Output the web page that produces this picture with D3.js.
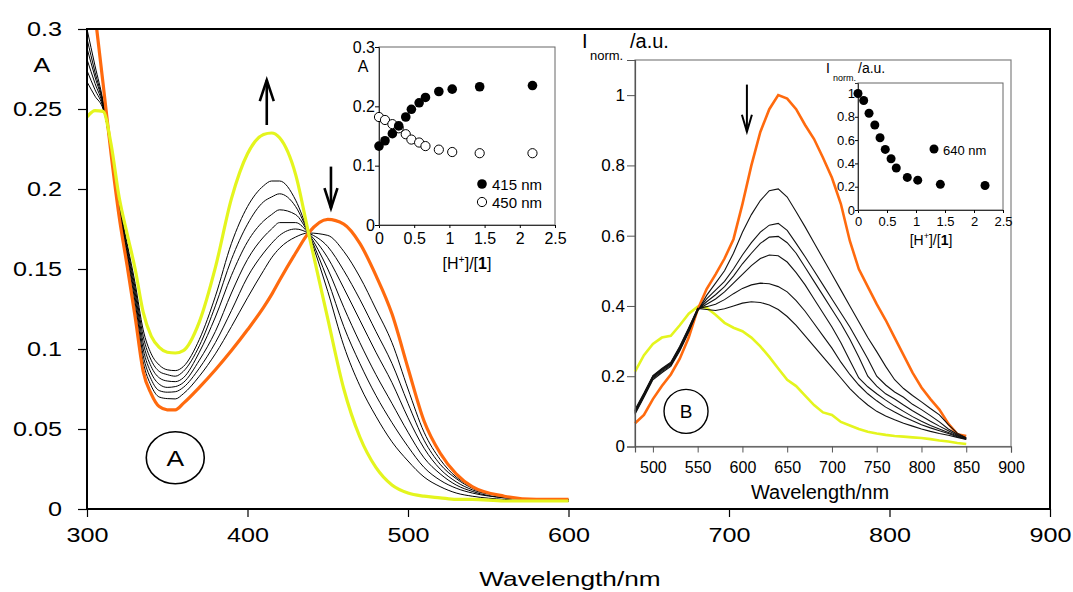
<!DOCTYPE html>
<html>
<head>
<meta charset="utf-8">
<script src="https://cdn.jsdelivr.net/npm/d3@7"></script>
<style>
  body { margin: 0; background: #fff; }
  svg { font-family: "Liberation Sans", Arial, sans-serif; }
  .sx-mid { transform-box: fill-box; transform-origin: 50% 50%; transform: scaleX(1.2); }
  .sx-end { transform-box: fill-box; transform-origin: 100% 50%; transform: scaleX(1.2); }
  .sx-title { transform-box: fill-box; transform-origin: 50% 50%; transform: scaleX(1.25); }
</style>
</head>
<body>
<div id="chart"></div>
<script>
// ---- panel A: absorption spectra ----
const absWl = [300,305,310,315,320,325,330,335,340,345,350,355,360,370,380,390,400,410,415,420,430,438,450,460,470,480,490,500,510,520,530,540,560,580,600];
const absYellow = [0.245,0.249,0.2485,0.228,0.195,0.172,0.150,0.123,0.108,0.101,0.098,0.0975,0.099,0.117,0.151,0.194,0.222,0.234,0.235,0.232,0.209,0.1725,0.119,0.075,0.045,0.026,0.015,0.010,0.008,0.007,0.006,0.006,0.005,0.005,0.005];
const absOrange = [0.352,0.309,0.266,0.222,0.183,0.152,0.120,0.086,0.072,0.064,0.062,0.062,0.066,0.076,0.087,0.099,0.112,0.126,0.134,0.143,0.160,0.1725,0.181,0.178,0.166,0.146,0.122,0.088,0.055,0.035,0.022,0.014,0.008,0.006,0.006];
const absBlack1 = [0.267,0.258,0.250,0.227,0.192,0.166,0.141,0.112,0.097,0.090,0.087,0.0865,0.089,0.106,0.133,0.166,0.189,0.202,0.205,0.205,0.193,0.1725,0.136,0.102,0.077,0.058,0.042,0.030,0.020,0.014,0.010,0.008,0.006,0.005,0.005];
const absBlack2 = [0.274,0.262,0.251,0.226,0.190,0.164,0.138,0.108,0.093,0.086,0.084,0.083,0.086,0.102,0.127,0.156,0.178,0.192,0.195,0.197,0.189,0.1725,0.143,0.114,0.091,0.071,0.054,0.039,0.026,0.018,0.013,0.010,0.007,0.006,0.005];
const absBlack3 = [0.281,0.266,0.252,0.225,0.189,0.162,0.135,0.104,0.089,0.082,0.080,0.0796,0.082,0.098,0.120,0.146,0.167,0.180,0.184,0.187,0.184,0.1725,0.150,0.126,0.104,0.084,0.066,0.048,0.032,0.022,0.015,0.011,0.007,0.006,0.005];
const absBlack4 = [0.288,0.270,0.253,0.224,0.188,0.160,0.132,0.100,0.085,0.078,0.076,0.0765,0.079,0.093,0.111,0.135,0.156,0.170,0.175,0.179,0.179,0.1725,0.157,0.138,0.118,0.098,0.079,0.057,0.038,0.025,0.017,0.012,0.008,0.006,0.006];
const absBlack5 = [0.294,0.273,0.254,0.223,0.187,0.158,0.129,0.096,0.081,0.074,0.073,0.0733,0.076,0.088,0.104,0.124,0.145,0.160,0.166,0.171,0.175,0.1725,0.164,0.149,0.131,0.111,0.091,0.066,0.043,0.028,0.019,0.013,0.008,0.006,0.006];
const absBlack6 = [0.300,0.277,0.255,0.222,0.185,0.155,0.125,0.092,0.077,0.070,0.069,0.0688,0.072,0.083,0.097,0.114,0.132,0.149,0.157,0.163,0.170,0.1725,0.171,0.161,0.145,0.125,0.104,0.075,0.048,0.031,0.020,0.014,0.008,0.006,0.006];
const absTicksX = [300,400,500,600,700,800,900];
const absTicksY = [0,0.05,0.1,0.15,0.2,0.25,0.3];

// inset of panel A: absorbance vs [H+]/[1]
const ratioA = [0,0.085,0.19,0.28,0.38,0.46,0.57,0.66,0.85,1.04,1.43,2.18];
const abs415 = [0.133,0.142,0.154,0.167,0.182,0.195,0.206,0.215,0.225,0.229,0.233,0.235];
const abs450 = [0.182,0.177,0.170,0.163,0.153,0.144,0.139,0.133,0.127,0.123,0.121,0.121];
const insetTicksX = [0,0.5,1,1.5,2,2.5];
const insetATicksY = [0,0.1,0.2,0.3];

// ---- panel B: emission spectra ----
const emWl = [480,490,500,510,520,530,540,550,560,570,580,590,600,610,620,630,640,650,660,670,680,690,700,710,720,730,740,750,760,770,780,790,800,810,820,830,840,850];
const emOrange = [0.066,0.09,0.135,0.172,0.205,0.25,0.31,0.39,0.448,0.49,0.535,0.59,0.69,0.80,0.895,0.96,1.0,0.99,0.96,0.915,0.875,0.822,0.765,0.69,0.585,0.505,0.455,0.405,0.36,0.31,0.26,0.21,0.168,0.135,0.105,0.065,0.035,0.03];
const emYellow = [0.213,0.26,0.292,0.31,0.315,0.345,0.378,0.398,0.395,0.375,0.352,0.338,0.328,0.31,0.285,0.255,0.222,0.19,0.172,0.145,0.118,0.097,0.09,0.07,0.06,0.05,0.042,0.037,0.033,0.03,0.028,0.026,0.024,0.021,0.017,0.014,0.01,0.007];
const emBlack1 = [0.092,0.14,0.19,0.21,0.228,0.272,0.325,0.385,0.43,0.465,0.50,0.55,0.61,0.66,0.70,0.728,0.733,0.71,0.668,0.625,0.58,0.535,0.49,0.445,0.40,0.355,0.31,0.27,0.228,0.19,0.165,0.145,0.127,0.108,0.09,0.062,0.038,0.025];
const emBlack2 = [0.095,0.143,0.193,0.213,0.231,0.275,0.328,0.387,0.42,0.445,0.47,0.505,0.545,0.58,0.61,0.63,0.635,0.615,0.578,0.54,0.50,0.46,0.42,0.38,0.34,0.295,0.25,0.20,0.175,0.155,0.14,0.12,0.105,0.088,0.07,0.05,0.035,0.024];
const emBlack3 = [0.098,0.146,0.196,0.216,0.234,0.278,0.331,0.389,0.412,0.432,0.455,0.485,0.52,0.55,0.578,0.596,0.598,0.58,0.55,0.51,0.47,0.43,0.39,0.35,0.305,0.255,0.20,0.172,0.15,0.135,0.118,0.102,0.087,0.072,0.058,0.045,0.032,0.023];
const emBlack4 = [0.1,0.148,0.198,0.218,0.236,0.28,0.333,0.39,0.405,0.42,0.44,0.465,0.49,0.515,0.535,0.545,0.543,0.525,0.495,0.46,0.42,0.38,0.34,0.295,0.245,0.195,0.17,0.15,0.132,0.115,0.1,0.085,0.072,0.06,0.05,0.04,0.03,0.022];
const emBlack5 = [0.102,0.15,0.2,0.22,0.238,0.283,0.336,0.392,0.398,0.405,0.418,0.435,0.45,0.46,0.465,0.463,0.455,0.44,0.415,0.385,0.35,0.315,0.28,0.24,0.205,0.175,0.15,0.13,0.112,0.098,0.085,0.073,0.062,0.053,0.045,0.037,0.028,0.021];
const emBlack6 = [0.105,0.152,0.202,0.222,0.24,0.285,0.338,0.393,0.39,0.387,0.392,0.4,0.408,0.412,0.41,0.403,0.39,0.37,0.345,0.315,0.285,0.255,0.225,0.195,0.165,0.14,0.118,0.1,0.087,0.076,0.066,0.058,0.05,0.043,0.037,0.032,0.026,0.02];
const emTicksX = [500,550,600,650,700,750,800,850,900];
const emTicksY = [0,0.2,0.4,0.6,0.8,1];

// inset of panel B: normalised intensity vs [H+]/[1]
const ratioB = [0,0.098,0.19,0.29,0.38,0.47,0.57,0.66,0.85,1.03,1.42,2.19];
const int640 = [1.0,0.94,0.83,0.73,0.62,0.52,0.44,0.36,0.28,0.256,0.22,0.21];
const insetBTicksY = [0,0.2,0.4,0.6,0.8,1];

const ORANGE = "#ff6a0e", YELLOW = "#e4f51e";
const fmt = d3.format("~g");

const svg = d3.select("#chart").append("svg")
  .attr("width", 1073).attr("height", 592);

// ================= main panel A =================
const x = d3.scaleLinear().domain([300, 900]).range([87, 1050]);
const y = d3.scaleLinear().domain([0, 0.3]).range([509, 29]);

svg.append("clipPath").attr("id", "clipA")
  .append("rect").attr("x", 87).attr("y", 29).attr("width", 963).attr("height", 480);

const lineA = d3.line()
  .x(d => x(d[0])).y(d => y(d[1]))
  .curve(d3.curveMonotoneX);

const gA = svg.append("g").attr("clip-path", "url(#clipA)");
[absBlack1, absBlack2, absBlack3, absBlack4, absBlack5, absBlack6].forEach(s => {
  gA.append("path")
    .attr("d", lineA(d3.zip(absWl, s)))
    .attr("fill", "none").attr("stroke", "#000").attr("stroke-width", 1);
});
gA.append("path").attr("d", lineA(d3.zip(absWl, absOrange)))
  .attr("fill", "none").attr("stroke", ORANGE).attr("stroke-width", 3.2);
gA.append("path").attr("d", lineA(d3.zip(absWl, absYellow)))
  .attr("fill", "none").attr("stroke", YELLOW).attr("stroke-width", 3.2);

// axes
svg.append("g")
  .attr("transform", "translate(0,509)")
  .call(d3.axisBottom(x).tickValues(absTicksX).tickSize(8).tickPadding(10))
  .call(g => g.select(".domain").remove())
  .call(g => g.selectAll(".tick line").attr("stroke-width", 1.2))
  .call(g => g.selectAll(".tick text").attr("class", "sx-mid")
    .attr("font-size", 21).attr("font-family", null).attr("fill", "#000"));

svg.append("g")
  .attr("transform", "translate(87,0)")
  .call(d3.axisLeft(y).tickValues(absTicksY).tickFormat(fmt).tickSize(9).tickPadding(16))
  .call(g => g.select(".domain").remove())
  .call(g => g.selectAll(".tick line").attr("stroke-width", 1.2))
  .call(g => g.selectAll(".tick text").attr("class", "sx-end")
    .attr("font-size", 21).attr("font-family", null).attr("fill", "#000"));

svg.append("rect")
  .attr("x", 87).attr("y", 29).attr("width", 963).attr("height", 480)
  .attr("fill", "none").attr("stroke", "#000").attr("stroke-width", 2);

svg.append("text").attr("class", "sx-mid")
  .attr("x", 42).attr("y", 72).attr("text-anchor", "middle")
  .attr("font-size", 21).text("A");
svg.append("text").attr("class", "sx-title")
  .attr("x", 570).attr("y", 586).attr("text-anchor", "middle")
  .attr("font-size", 21).text("Wavelength/nm");

// arrows
function arrow(xp, yTail, yTip, w, h, sw) {
  const dir = yTip < yTail ? 1 : -1;
  svg.append("line").attr("x1", xp).attr("x2", xp).attr("y1", yTail).attr("y2", yTip)
    .attr("stroke", "#000").attr("stroke-width", sw);
  svg.append("path")
    .attr("d", `M${xp - w},${yTip + dir * h}L${xp},${yTip}L${xp + w},${yTip + dir * h}`)
    .attr("fill", "none").attr("stroke", "#000").attr("stroke-width", sw);
}
arrow(x(412), y(0.24), y(0.268), 7, 21, 2.6);
arrow(x(452), y(0.214), y(0.188), 6.5, 20, 2.6);

// circled "A"
svg.append("ellipse")
  .attr("cx", x(355)).attr("cy", y(0.032)).attr("rx", 29).attr("ry", 26)
  .attr("fill", "none").attr("stroke", "#000").attr("stroke-width", 1.6);
svg.append("text").attr("class", "sx-mid")
  .attr("x", x(355)).attr("y", y(0.032) + 8).attr("text-anchor", "middle")
  .attr("font-size", 22).text("A");

// ================= inset of A =================
const xi = d3.scaleLinear().domain([0, 2.5]).range([379, 555]);
const yi = d3.scaleLinear().domain([0, 0.3]).range([225, 47]);

svg.append("rect").attr("x", 379).attr("y", 47).attr("width", 176).attr("height", 178)
  .attr("fill", "#fff").attr("stroke", "#666").attr("stroke-width", 1);

svg.append("g").attr("transform", "translate(0,225)")
  .call(d3.axisBottom(xi).tickValues(insetTicksX).tickFormat(fmt).tickSize(3).tickPadding(5))
  .call(g => g.select(".domain").attr("stroke", "#333"))
  .call(g => g.selectAll(".tick text").attr("font-size", 16).attr("font-family", null).attr("fill", "#000"));
svg.append("g").attr("transform", "translate(379,0)")
  .call(d3.axisLeft(yi).tickValues(insetATicksY).tickFormat(fmt).tickSize(4).tickPadding(0))
  .call(g => g.select(".domain").attr("stroke", "#333"))
  .call(g => g.selectAll(".tick text").attr("font-size", 16).attr("font-family", null).attr("fill", "#000"));

svg.append("text").attr("x", 363).attr("y", 72).attr("text-anchor", "middle")
  .attr("font-size", 16).text("A");

function ratioLabel(cx, cy, size) {
  const t = svg.append("text").attr("x", cx).attr("y", cy).attr("text-anchor", "middle")
    .attr("font-size", size);
  t.append("tspan").text("[H");
  t.append("tspan").attr("font-size", size * 0.65).attr("dy", -size * 0.4).text("+");
  t.append("tspan").attr("dy", size * 0.4).text("]/[");
  t.append("tspan").attr("font-weight", "bold").text("1");
  t.append("tspan").text("]");
}
ratioLabel(467, 269, 16);

svg.append("g").selectAll("circle")
  .data(d3.zip(ratioA, abs450)).join("circle")
  .attr("cx", d => xi(d[0])).attr("cy", d => yi(d[1])).attr("r", 4.6)
  .attr("fill", "#fff").attr("stroke", "#000").attr("stroke-width", 1);
svg.append("g").selectAll("circle")
  .data(d3.zip(ratioA, abs415)).join("circle")
  .attr("cx", d => xi(d[0])).attr("cy", d => yi(d[1])).attr("r", 4.8)
  .attr("fill", "#000");

svg.append("circle").attr("cx", 482).attr("cy", 184).attr("r", 4.8).attr("fill", "#000");
svg.append("text").attr("x", 492).attr("y", 190).attr("font-size", 15).text("415 nm");
svg.append("circle").attr("cx", 482).attr("cy", 202).attr("r", 4.6)
  .attr("fill", "#fff").attr("stroke", "#000");
svg.append("text").attr("x", 492).attr("y", 208).attr("font-size", 15).text("450 nm");

// ================= panel B =================
const xB = d3.scaleLinear().domain([480, 900]).range([635, 1011]);
const yB = d3.scaleLinear().domain([0, 1.1]).range([446.5, 60]);

svg.append("rect").attr("x", 635).attr("y", 60).attr("width", 376).attr("height", 386.5)
  .attr("fill", "#fff").attr("stroke", "#808080").attr("stroke-width", 1.2);

const lineB = d3.line().x(d => xB(d[0])).y(d => yB(d[1]));
svg.append("path").attr("d", lineB(d3.zip(emWl, emYellow)))
  .attr("fill", "none").attr("stroke", YELLOW).attr("stroke-width", 2.6);
svg.append("path").attr("d", lineB(d3.zip(emWl, emOrange)))
  .attr("fill", "none").attr("stroke", ORANGE).attr("stroke-width", 2.6);
[emBlack1, emBlack2, emBlack3, emBlack4, emBlack5, emBlack6].forEach(s => {
  svg.append("path").attr("d", lineB(d3.zip(emWl, s)))
    .attr("fill", "none").attr("stroke", "#111").attr("stroke-width", 1.1);
});

svg.append("g").attr("transform", "translate(0,446.5)")
  .call(d3.axisBottom(xB).tickValues(emTicksX).tickSize(6).tickPadding(9))
  .call(g => g.select(".domain").attr("stroke", "#555").attr("stroke-width", 1.2))
  .call(g => g.selectAll(".tick line").attr("stroke", "#555"))
  .call(g => g.selectAll(".tick text").attr("font-size", 16).attr("font-family", null).attr("fill", "#000"));
svg.append("g").attr("transform", "translate(635,0)")
  .call(d3.axisLeft(yB).tickValues(emTicksY).tickFormat(fmt).tickSize(8).tickPadding(2))
  .call(g => g.select(".domain").attr("stroke", "#555").attr("stroke-width", 1.2))
  .call(g => g.selectAll(".tick line").attr("stroke", "#555"))
  .call(g => g.selectAll(".tick text").attr("font-size", 17).attr("font-family", null).attr("fill", "#000"));

svg.append("text").attr("x", 820).attr("y", 499).attr("text-anchor", "middle")
  .attr("font-size", 20).text("Wavelength/nm");

svg.append("text").attr("x", 582).attr("y", 48).attr("font-size", 20).text("I");
svg.append("text").attr("x", 590).attr("y", 60).attr("font-size", 13).text("norm.");
svg.append("text").attr("x", 630).attr("y", 48).attr("font-size", 20).text("/a.u.");

arrow(xB(605), yB(1.03), yB(0.896), 5, 17, 2);

svg.append("circle").attr("cx", xB(537)).attr("cy", yB(0.1)).attr("r", 22)
  .attr("fill", "none").attr("stroke", "#000").attr("stroke-width", 1.4);
svg.append("text").attr("x", xB(537)).attr("y", yB(0.1) + 7).attr("text-anchor", "middle")
  .attr("font-size", 19).text("B");

// ================= inset of B =================
const xj = d3.scaleLinear().domain([0, 2.5]).range([858, 1003]);
const yj = d3.scaleLinear().domain([0, 1.09]).range([210, 83]);

svg.append("rect").attr("x", 858).attr("y", 83).attr("width", 145).attr("height", 127)
  .attr("fill", "#fff").attr("stroke", "#666").attr("stroke-width", 1);

svg.append("g").attr("transform", "translate(0,210)")
  .call(d3.axisBottom(xj).tickValues(insetTicksX).tickFormat(fmt).tickSize(3).tickPadding(4))
  .call(g => g.select(".domain").attr("stroke", "#333"))
  .call(g => g.selectAll(".tick text").attr("font-size", 13).attr("font-family", null).attr("fill", "#000"));
svg.append("g").attr("transform", "translate(858,0)")
  .call(d3.axisLeft(yj).tickValues(insetBTicksY).tickFormat(fmt).tickSize(3).tickPadding(0))
  .call(g => g.select(".domain").attr("stroke", "#333"))
  .call(g => g.selectAll(".tick text").attr("font-size", 13).attr("font-family", null).attr("fill", "#000"));

svg.append("text").attr("x", 826).attr("y", 73).attr("font-size", 14).text("I");
svg.append("text").attr("x", 833).attr("y", 81).attr("font-size", 9).text("norm.");
svg.append("text").attr("x", 858).attr("y", 73).attr("font-size", 14).text("/a.u.");
ratioLabel(931, 245, 14);

svg.append("g").selectAll("circle")
  .data(d3.zip(ratioB, int640)).join("circle")
  .attr("cx", d => xj(d[0])).attr("cy", d => yj(d[1])).attr("r", 4.5)
  .attr("fill", "#000");
svg.append("circle").attr("cx", 934).attr("cy", 149).attr("r", 4.5).attr("fill", "#000");
svg.append("text").attr("x", 943).attr("y", 155).attr("font-size", 13).text("640 nm");
</script>
</body>
</html>
